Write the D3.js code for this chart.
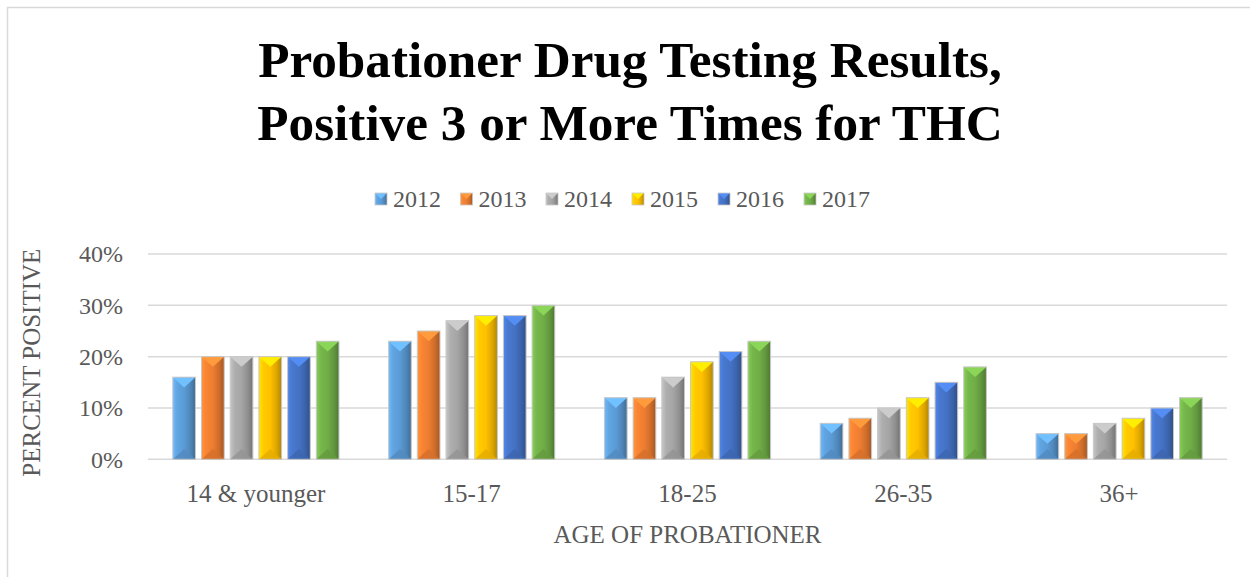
<!DOCTYPE html>
<html>
<head>
<meta charset="utf-8">
<script src="https://cdn.jsdelivr.net/npm/d3@7"></script>
<style>
  html, body { margin: 0; padding: 0; background: #fff; }
  svg { display: block; }
  text { font-family: "Liberation Serif", "DejaVu Serif", serif; }
</style>
</head>
<body>
<svg id="chart" width="1250" height="577"></svg>
<script>
// ---- data ----
const categories = ["14 & younger", "15-17", "18-25", "26-35", "36+"];
const years = ["2012", "2013", "2014", "2015", "2016", "2017"];
const v2012 = [16, 23, 12, 7, 5];
const v2013 = [20, 25, 12, 8, 5];
const v2014 = [20, 27, 16, 10, 7];
const v2015 = [20, 28, 19, 12, 8];
const v2016 = [20, 28, 21, 15, 10];
const v2017 = [23, 30, 23, 18, 12];
const yTicks = [0, 10, 20, 30, 40];
const colors = ["#5B9BD5", "#ED7D31", "#A5A5A5", "#FFC000", "#4472C4", "#70AD47"];
const titleLines = ["Probationer Drug Testing Results,", "Positive 3 or More Times for THC"];
const yTitle = "PERCENT POSITIVE";
const xTitle = "AGE OF PROBATIONER";

const seriesValues = [v2012, v2013, v2014, v2015, v2016, v2017];

const svg = d3.select("#chart");
const textColor = "#595959";

// frame
svg.append("rect").attr("x", 7.5).attr("y", 7.5).attr("width", 1270).attr("height", 600)
  .attr("fill", "#fff").attr("stroke", "#d9d9d9").attr("stroke-width", 1.5);

// gradients
const defs = svg.append("defs");
colors.forEach((c, i) => {
  const base = d3.rgb(c);
  const g = defs.append("linearGradient").attr("id", "g" + i)
    .attr("x1", "0%").attr("x2", "100%").attr("y1", "0%").attr("y2", "0%");
  g.append("stop").attr("offset", "0%").attr("stop-color", base.brighter(0.5));
  g.append("stop").attr("offset", "20%").attr("stop-color", base.brighter(0.15));
  g.append("stop").attr("offset", "50%").attr("stop-color", base);
  g.append("stop").attr("offset", "78%").attr("stop-color", base.darker(0.4));
  g.append("stop").attr("offset", "100%").attr("stop-color", base.darker(1.0));
});

// scales
const plotLeft = 148, plotRight = 1227, plotTop = 254, plotBottom = 459.3;
const x0 = d3.scaleBand().domain(categories).range([plotLeft, plotRight])
  .paddingInner(0.23).paddingOuter(0.115);
const x1 = d3.scaleBand().domain(years).range([0, x0.bandwidth()]).paddingInner(0.21);
const y = d3.scaleLinear().domain([0, 40]).range([plotBottom, plotTop]);

// gridlines
svg.append("g").selectAll("line").data(yTicks).join("line")
  .attr("x1", plotLeft).attr("x2", plotRight)
  .attr("y1", d => y(d)).attr("y2", d => y(d))
  .attr("stroke", "#d9d9d9").attr("stroke-width", 1.5);

// y tick labels
svg.append("g").selectAll("text").data(yTicks).join("text")
  .attr("x", 123).attr("y", d => y(d)).attr("dy", "0.35em")
  .attr("text-anchor", "end").attr("font-size", 24).attr("fill", textColor)
  .text(d => d + "%");

// bars
const barsG = svg.append("g");
categories.forEach((cat, ci) => {
  years.forEach((yr, si) => {
    const val = seriesValues[si][ci];
    const bx = x0(cat) + x1(yr);
    const bw = x1.bandwidth();
    const by = y(val);
    const bh = y(0) - by;
    const d = Math.min(bw * 0.45, bh / 2);
    const base = d3.rgb(colors[si]);
    const g = barsG.append("g");
    g.append("rect").attr("x", bx).attr("y", by).attr("width", bw).attr("height", bh)
      .attr("fill", `url(#g${si})`);
    // top bevel
    g.append("polygon")
      .attr("points", `${bx},${by} ${bx + bw},${by} ${bx + bw / 2},${by + d}`)
      .attr("fill", base.brighter(0.6));
    // bottom bevel
    g.append("polygon")
      .attr("points", `${bx},${by + bh} ${bx + bw},${by + bh} ${bx + bw / 2},${by + bh - d}`)
      .attr("fill", base.darker(0.3)).attr("opacity", 0.85);
    g.append("rect").attr("x", bx).attr("y", by).attr("width", bw).attr("height", bh)
      .attr("fill", "none").attr("stroke", "#c8c8c8").attr("stroke-width", 1);
  });
});

// category labels
svg.append("g").selectAll("text").data(categories).join("text")
  .attr("x", d => x0(d) + x0.bandwidth() / 2).attr("y", 502)
  .attr("text-anchor", "middle").attr("font-size", 25).attr("fill", textColor)
  .text(d => d);

// axis titles
svg.append("text").attr("x", (plotLeft + plotRight) / 2).attr("y", 543)
  .attr("text-anchor", "middle").attr("font-size", 25).attr("fill", textColor)
  .text(xTitle);
svg.append("text").attr("transform", `translate(40, ${(plotTop + plotBottom) / 2 + 6}) rotate(-90)`)
  .attr("text-anchor", "middle").attr("font-size", 25).attr("fill", textColor)
  .text(yTitle);

// legend
const legendX = [375, 460.5, 546, 632, 718, 804];
const lg = svg.append("g");
years.forEach((yr, i) => {
  const lx = legendX[i];
  const base = d3.rgb(colors[i]);
  const s = 12, ly = 193;
  lg.append("rect").attr("x", lx).attr("y", ly).attr("width", s).attr("height", s)
    .attr("fill", `url(#g${i})`);
  lg.append("polygon").attr("points", `${lx},${ly} ${lx + s},${ly} ${lx + s / 2},${ly + s / 2}`)
    .attr("fill", base.brighter(0.6));
  lg.append("rect").attr("x", lx).attr("y", ly).attr("width", s).attr("height", s)
    .attr("fill", "none").attr("stroke", "#c8c8c8").attr("stroke-width", 0.8);
  lg.append("text").attr("x", lx + 18).attr("y", 207)
    .attr("font-size", 24).attr("fill", textColor).text(yr);
});

// title
const cx = 630;
const t1 = svg.append("text").attr("x", cx).attr("y", 77).attr("text-anchor", "middle")
  .attr("font-weight", "bold").attr("font-size", 48).attr("fill", "#000").text(titleLines[0]);
const w1 = t1.node().getComputedTextLength();
const fs = 48 * 744 / w1;
t1.attr("font-size", fs);
svg.append("text").attr("x", cx).attr("y", 140).attr("text-anchor", "middle")
  .attr("font-weight", "bold").attr("font-size", fs).attr("fill", "#000").text(titleLines[1]);
</script>
</body>
</html>
